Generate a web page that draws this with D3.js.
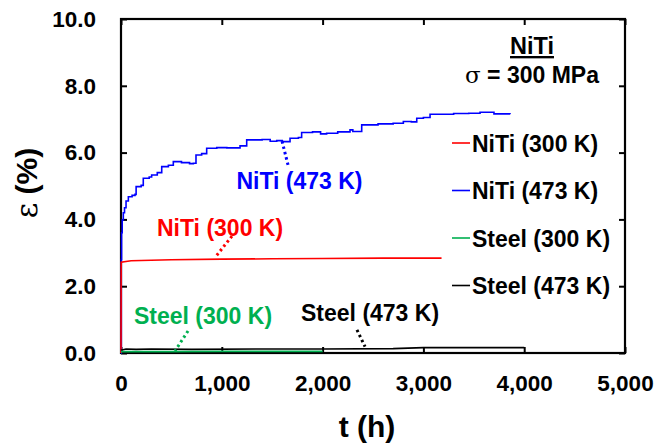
<!DOCTYPE html>
<html>
<head>
<meta charset="utf-8">
<script src="https://cdn.jsdelivr.net/npm/d3@7"></script>
<style>
  body { margin: 0; background: #fff; }
  text { font-family: "Liberation Sans", Arial, sans-serif; font-weight: bold; }
</style>
</head>
<body>
<div id="container"></div>
<script>
const width = 658,
  height = 445,
  margin = { top: 19, right: 33, bottom: 92, left: 121 };

/* DATA */
// [t (h), strain (%)]
const nitiHot = [
  [0, 0], [3, 2.8], [6, 3.6], [12, 3.98], [23, 4.2], [35, 4.35], [50, 4.55], [73, 4.68], [110, 4.72],
  [139, 4.75], [150, 4.98], [200, 5.02], [221, 5.23], [280, 5.27], [304, 5.33], [360, 5.4],
  [404, 5.58], [470, 5.62], [519, 5.73], [600, 5.7], [680, 5.67], [718, 5.68], [744, 5.93],
  [800, 5.97], [850, 6.13], [950, 6.15], [1050, 6.14], [1181, 6.2], [1247, 6.38], [1400, 6.39],
  [1480, 6.34], [1545, 6.36], [1600, 6.33], [1677, 6.43], [1760, 6.45], [1792, 6.6], [1900, 6.62],
  [1980, 6.56], [2040, 6.58], [2150, 6.62], [2272, 6.68], [2300, 6.63], [2388, 6.83], [2550, 6.86],
  [2700, 6.88], [2801, 6.93], [2880, 6.92], [2934, 7.03], [3000, 7.05], [3066, 7.15], [3300, 7.17],
  [3450, 7.18], [3562, 7.21], [3700, 7.16], [3859, 7.15]
];
const nitiRoom = [
  [0, 0], [2, 2.72], [100, 2.76], [500, 2.79], [1000, 2.81], [1500, 2.82], [2000, 2.83],
  [2600, 2.84], [3180, 2.84]
];
const steelRoom = [[0, 0.04], [500, 0.04], [1000, 0.05], [1500, 0.05], [2000, 0.05]];
const steelHot = [
  [0, 0.08], [50, 0.12], [150, 0.11], [300, 0.12], [700, 0.11], [1500, 0.12], [2000, 0.12],
  [2700, 0.13], [3000, 0.16], [4000, 0.16]
];

const series = [
  { name: "NiTi (473 K)", color: "#0000ff", values: nitiHot, step: true },
  { name: "NiTi (300 K)", color: "#ff0000", values: nitiRoom },
  { name: "Steel (473 K)", color: "#000000", values: steelHot },
  { name: "Steel (300 K)", color: "#00b050", values: steelRoom }
];
const legendOrder = ["NiTi (300 K)", "NiTi (473 K)", "Steel (300 K)", "Steel (473 K)"];

const xTicks = [0, 1000, 2000, 3000, 4000, 5000];
const yTicks = [0, 2, 4, 6, 8, 10];

// label anchor (t, eps) and leader from -> to
const notes = [
  { text: "NiTi (473 K)", color: "#0000ff", at: [1145, 4.9], from: [1657, 5.63], to: [1597, 6.35] },
  { text: "NiTi (300 K)", color: "#ff0000", at: [357, 3.49], from: [1101, 3.5], to: [933, 2.86] },
  { text: "Steel (300 K)", color: "#00b050", at: [129, 0.87], from: [665, 0.66], to: [536, 0.06] },
  { text: "Steel (473 K)", color: "#000000", at: [1786, 0.96], from: [2341, 0.69], to: [2421, 0.19] }
];

/* SCALES */
const x = d3.scaleLinear().domain([0, 5000]).range([margin.left, width - margin.right]);
const y = d3.scaleLinear().domain([0, 10]).range([height - margin.bottom, margin.top]);

const svg = d3.select("#container").append("svg")
  .attr("width", width)
  .attr("height", height);

svg.append("rect").attr("width", width).attr("height", height).attr("fill", "#fff");

/* AXES */
const tick = 6;
svg.append("g")
  .attr("transform", `translate(0,${y(0)})`)
  .call(d3.axisBottom(x).tickValues(xTicks).tickFormat(d3.format(",")).tickSizeInner(-tick).tickSizeOuter(0).tickPadding(22))
  .call(g => g.select(".domain").remove())
  .call(g => g.selectAll("text").attr("font-size", "22.5px").attr("fill", "#000"))
  .call(g => g.selectAll("line").attr("stroke-width", 2));

svg.append("g")
  .attr("transform", `translate(0,${y(10)})`)
  .call(d3.axisTop(x).tickValues(xTicks).tickFormat("").tickSizeInner(-tick).tickSizeOuter(0))
  .call(g => g.select(".domain").remove())
  .call(g => g.selectAll("line").attr("stroke-width", 2));

svg.append("g")
  .attr("transform", `translate(${x(0)},0)`)
  .call(d3.axisLeft(y).tickValues(yTicks).tickFormat(d3.format(".1f")).tickSizeInner(-tick).tickSizeOuter(0).tickPadding(25))
  .call(g => g.select(".domain").remove())
  .call(g => g.selectAll("text").attr("font-size", "22.5px").attr("fill", "#000"))
  .call(g => g.selectAll("line").attr("stroke-width", 2));

svg.append("g")
  .attr("transform", `translate(${x(5000)},0)`)
  .call(d3.axisRight(y).tickValues(yTicks).tickFormat("").tickSizeInner(-tick).tickSizeOuter(0))
  .call(g => g.select(".domain").remove())
  .call(g => g.selectAll("line").attr("stroke-width", 2));

// frame
svg.append("rect")
  .attr("x", x(0)).attr("y", y(10))
  .attr("width", x(5000) - x(0)).attr("height", y(0) - y(10))
  .attr("fill", "none").attr("stroke", "#000").attr("stroke-width", 2.2);

/* LINES */
const line = d3.line().x(d => x(d[0])).y(d => y(d[1]));
const stepLine = d3.line().curve(d3.curveStepAfter).x(d => x(d[0])).y(d => y(d[1]));

svg.selectAll("path.series")
  .data(series)
  .join("path")
  .attr("class", "series")
  .attr("d", d => (d.step ? stepLine : line)(d.values))
  .attr("fill", "none")
  .attr("stroke", d => d.color)
  .attr("stroke-width", 1.6);

/* ANNOTATIONS */
svg.selectAll("line.leader")
  .data(notes)
  .join("line")
  .attr("class", "leader")
  .attr("x1", d => x(d.from[0])).attr("y1", d => y(d.from[1]))
  .attr("x2", d => x(d.to[0])).attr("y2", d => y(d.to[1]))
  .attr("stroke", d => d.color)
  .attr("stroke-width", 3)
  .attr("stroke-dasharray", "2.5 3");

svg.selectAll("text.note")
  .data(notes)
  .join("text")
  .attr("class", "note")
  .attr("x", d => x(d.at[0])).attr("y", d => y(d.at[1]))
  .attr("font-size", "23px")
  .attr("fill", d => d.color)
  .text(d => d.text);

/* TITLE BLOCK */
svg.append("text")
  .attr("x", 532).attr("y", 54)
  .attr("text-anchor", "middle")
  .attr("font-size", "23.5px")
  .attr("text-decoration", "underline")
  .text("NiTi");

const sig = svg.append("text")
  .attr("x", 532).attr("y", 83)
  .attr("text-anchor", "middle")
  .attr("font-size", "23px");
sig.append("tspan").attr("font-family", "'DejaVu Serif', serif").attr("font-weight", "normal").text("σ");
sig.append("tspan").text(" = 300 MPa");

/* LEGEND */
const legend = svg.selectAll("g.legend")
  .data(legendOrder.map(n => series.find(s => s.name === n)))
  .join("g")
  .attr("class", "legend")
  .attr("transform", (d, i) => `translate(452,${143 + i * 47.5})`);

legend.append("line")
  .attr("x1", 0).attr("x2", 18)
  .attr("stroke", d => d.color).attr("stroke-width", 1.6);

legend.append("text")
  .attr("x", 20).attr("y", 8.5)
  .attr("font-size", "23px")
  .attr("fill", "#000")
  .text(d => d.name);

/* AXIS TITLES */
svg.append("text")
  .attr("x", 367).attr("y", 437)
  .attr("text-anchor", "middle")
  .attr("font-size", "30px")
  .text("t (h)");

const yt = svg.append("text")
  .attr("transform", `translate(37,${183}) rotate(-90)`)
  .attr("text-anchor", "middle")
  .attr("font-size", "30px");
yt.append("tspan").attr("font-family", "'DejaVu Serif', serif").attr("font-weight", "normal").text("ε");
yt.append("tspan").text(" (%)");
</script>
</body>
</html>
